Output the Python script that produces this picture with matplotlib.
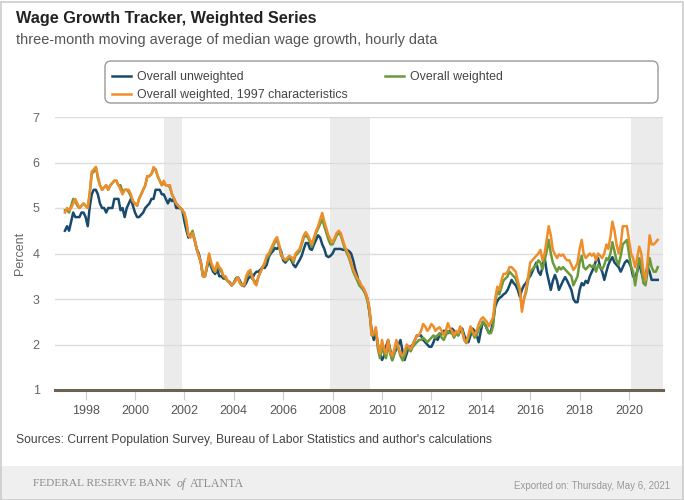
import matplotlib
matplotlib.use("Agg")
import matplotlib.pyplot as plt
import matplotlib.dates as mdates
from matplotlib.patches import Rectangle, FancyBboxPatch
from matplotlib.transforms import IdentityTransform
import pandas as pd

plt.rcParams['font.family'] = ['Liberation Sans', 'DejaVu Sans']

# monthly values, Mar 1997 .. Mar 2021
unweighted = [
    4.5, 4.6, 4.5, 4.7, 4.9, 4.8, 4.8, 4.8, 4.9, 4.9,                    # 1997
    4.8, 4.6, 5.0, 5.3, 5.4, 5.4, 5.3, 5.1, 5.0, 5.0, 4.9, 5.0,          # 1998
    5.0, 5.0, 5.2, 5.2, 5.2, 4.95, 5.0, 4.8, 5.0, 5.1, 5.2, 5.05,        # 1999
    4.9, 4.8, 4.8, 4.85, 4.9, 5.0, 5.05, 5.1, 5.2, 5.2, 5.4, 5.4,        # 2000
    5.4, 5.3, 5.3, 5.2, 5.1, 5.2, 5.15, 5.2, 5.0, 5.0, 5.0, 4.95,        # 2001
    4.7, 4.5, 4.35, 4.4, 4.45, 4.3, 4.1, 4.0, 3.8, 3.5, 3.5, 3.7,        # 2002
    3.85, 3.7, 3.6, 3.55, 3.65, 3.5, 3.5, 3.45, 3.45, 3.4, 3.37, 3.3,    # 2003
    3.35, 3.45, 3.48, 3.4, 3.3, 3.28, 3.35, 3.45, 3.5, 3.45, 3.55, 3.6,  # 2004
    3.6, 3.65, 3.7, 3.68, 3.75, 3.92, 4.0, 4.05, 4.12, 4.1, 4.15, 4.05,  # 2005
    3.85, 3.8, 3.85, 3.92, 3.85, 3.75, 3.7, 3.78, 3.86, 3.95, 4.1, 4.23, # 2006
    4.23, 4.1, 4.08, 4.2, 4.3, 4.4, 4.35, 4.2, 4.1, 3.95, 3.92, 3.95,    # 2007
    4.0, 4.1, 4.1, 4.1, 4.1, 4.08, 4.08, 4.08, 4.05, 4.0, 3.85, 3.65,    # 2008
    3.5, 3.3, 3.27, 3.2, 3.13, 3.0, 2.7, 2.3, 2.1, 2.3, 2.0, 1.8,        # 2009
    1.66, 1.75, 1.95, 2.1, 1.9, 1.66, 1.8, 1.9, 2.0, 2.1, 1.85, 1.66,    # 2010
    1.8, 1.95, 1.95, 2.0, 2.1, 2.2, 2.2, 2.2, 2.1, 2.05, 2.0, 1.95,      # 2011
    1.95, 2.05, 2.17, 2.1, 2.2, 2.25, 2.3, 2.3, 2.25, 2.3, 2.35, 2.3,    # 2012
    2.25, 2.2, 2.3, 2.35, 2.2, 2.1, 2.05, 2.2, 2.35, 2.3, 2.2, 2.05,     # 2013
    2.3, 2.5, 2.45, 2.35, 2.25, 2.3, 2.5, 2.83, 2.95, 3.02, 3.05, 3.1,   # 2014
    3.13, 3.2, 3.3, 3.42, 3.35, 3.3, 3.2, 3.05, 3.2, 3.3, 3.35, 3.45,    # 2015
    3.5, 3.6, 3.7, 3.8, 3.6, 3.53, 3.7, 3.92, 3.6, 3.4, 3.2, 3.4,        # 2016
    3.53, 3.4, 3.2, 3.3, 3.4, 3.48, 3.4, 3.3, 3.2, 3.0, 2.93, 2.93,      # 2017
    3.2, 3.35, 3.3, 3.4, 3.35, 3.5, 3.6, 3.7, 3.85, 3.9, 3.7, 3.6,       # 2018
    3.42, 3.6, 3.75, 3.85, 3.92, 3.8, 3.75, 3.7, 3.6, 3.7, 3.8, 3.85,    # 2019
    3.8, 3.7, 3.5, 3.48, 3.6, 3.8, 3.6, 3.42, 3.55, 3.7, 3.6, 3.42,      # 2020
    3.42, 3.42, 3.42,                                                    # 2021
]

weighted = [
    4.95, 4.95, 4.9, 5.05, 5.2, 5.15, 5.05, 5.0, 5.05, 5.1,
    5.05, 5.0, 5.3, 5.75, 5.8, 5.9, 5.65, 5.5, 5.4, 5.45, 5.5, 5.4,
    5.5, 5.55, 5.6, 5.6, 5.5, 5.5, 5.35, 5.4, 5.4, 5.35, 5.25, 5.15,
    5.1, 5.05, 5.2, 5.3, 5.4, 5.5, 5.7, 5.7, 5.75, 5.85, 5.85, 5.7,
    5.6, 5.5, 5.55, 5.5, 5.5, 5.45, 5.3, 5.2, 5.1, 5.05, 5.0, 4.95,
    4.85, 4.65, 4.4, 4.4, 4.5, 4.3, 4.1, 3.95, 3.8, 3.55, 3.5, 3.7,
    3.95, 3.75, 3.65, 3.6, 3.75, 3.65, 3.6, 3.5, 3.45, 3.4, 3.35, 3.3,
    3.35, 3.45, 3.48, 3.35, 3.3, 3.3, 3.45, 3.55, 3.6, 3.45, 3.4, 3.35,
    3.5, 3.6, 3.7, 3.75, 3.9, 3.95, 4.05, 4.15, 4.25, 4.3, 4.15, 3.95,
    3.9, 3.85, 3.85, 3.9, 3.9, 3.8, 3.95, 4.0, 4.05, 4.2, 4.35, 4.4,
    4.35, 4.25, 4.15, 4.3, 4.45, 4.55, 4.65, 4.75, 4.6, 4.45, 4.3, 4.2,
    4.2, 4.3, 4.4, 4.45, 4.4, 4.25, 4.1, 4.0, 3.9, 3.75, 3.6, 3.5,
    3.4, 3.3, 3.25, 3.2, 3.1, 2.95, 2.7, 2.2, 2.2, 2.3, 1.9, 1.7,
    1.95, 1.8, 1.7, 2.0, 1.8, 1.65, 1.8, 2.0, 1.9, 1.75, 1.65, 1.75,
    1.9, 1.9, 1.85, 1.95, 2.0, 2.05, 2.1, 2.1, 2.15, 2.1, 2.05, 2.1,
    2.15, 2.2, 2.15, 2.2, 2.25, 2.15, 2.1, 2.2, 2.3, 2.25, 2.25, 2.15,
    2.25, 2.2, 2.35, 2.3, 2.1, 2.03, 2.15, 2.3, 2.25, 2.15, 2.2, 2.35,
    2.4, 2.5, 2.45, 2.35, 2.25, 2.25, 2.4, 2.9, 3.2, 3.1, 3.25, 3.4,
    3.45, 3.5, 3.6, 3.55, 3.5, 3.45, 3.3, 3.15, 2.8, 3.0, 3.15, 3.4,
    3.6, 3.65, 3.7, 3.75, 3.85, 3.8, 3.65, 3.85, 4.05, 4.3, 4.0, 3.8,
    3.7, 3.6, 3.7, 3.65, 3.7, 3.65, 3.6, 3.55, 3.5, 3.3, 3.4, 3.5,
    3.8, 3.95, 3.7, 3.65, 3.7, 3.75, 3.7, 3.75, 3.6, 3.75, 3.7, 3.65,
    3.75, 3.9, 3.85, 4.0, 4.25, 4.05, 3.85, 3.75, 3.95, 4.2, 4.25, 4.3,
    4.0, 3.7, 3.6, 3.3, 3.6, 3.9, 3.7, 3.35, 3.3, 3.6, 3.9, 3.7,
    3.6, 3.6, 3.7,
]

weighted_1997 = [
    4.9, 5.0, 4.95, 5.0, 5.1, 5.2, 5.1, 5.0, 5.05, 5.1,
    5.05, 5.0, 5.3, 5.8, 5.85, 5.9, 5.7, 5.5, 5.4, 5.45, 5.5, 5.4,
    5.5, 5.55, 5.6, 5.6, 5.5, 5.4, 5.3, 5.4, 5.4, 5.4, 5.3, 5.15,
    5.1, 5.05, 5.2, 5.3, 5.4, 5.5, 5.7, 5.7, 5.75, 5.9, 5.85, 5.7,
    5.6, 5.5, 5.6, 5.5, 5.5, 5.5, 5.3, 5.2, 5.1, 5.05, 5.0, 4.95,
    4.9, 4.7, 4.4, 4.35, 4.45, 4.3, 4.1, 3.95, 3.8, 3.5, 3.5, 3.75,
    4.0, 3.8, 3.7, 3.6, 3.8, 3.7, 3.65, 3.5, 3.5, 3.4, 3.35, 3.3,
    3.35, 3.4, 3.48, 3.35, 3.3, 3.3, 3.5, 3.6, 3.64, 3.5, 3.35, 3.3,
    3.5, 3.6, 3.7, 3.8, 3.95, 4.0, 4.1, 4.2, 4.3, 4.36, 4.2, 4.0,
    3.9, 3.85, 3.9, 3.95, 3.92, 3.85, 4.0, 4.05, 4.1, 4.25, 4.4, 4.47,
    4.4, 4.3, 4.2, 4.35, 4.5, 4.6, 4.75, 4.89, 4.7, 4.55, 4.4, 4.3,
    4.25, 4.35, 4.45, 4.5, 4.45, 4.3, 4.15, 4.05, 3.95, 3.8, 3.65, 3.55,
    3.45, 3.4, 3.3, 3.25, 3.15, 3.0, 2.8, 2.2, 2.25, 2.38, 2.0, 1.8,
    2.1, 1.9, 1.8, 2.1, 1.85, 1.75, 1.9, 2.1, 1.95, 1.8, 1.75, 1.85,
    2.0, 1.95, 1.9, 2.0, 2.1, 2.2, 2.2, 2.3, 2.45, 2.4, 2.3, 2.35,
    2.45, 2.4, 2.3, 2.35, 2.38, 2.3, 2.2, 2.3, 2.47, 2.35, 2.3, 2.2,
    2.3, 2.25, 2.4, 2.3, 2.1, 2.05, 2.2, 2.4, 2.3, 2.2, 2.3, 2.45,
    2.55, 2.6, 2.55, 2.5, 2.4, 2.5, 2.6, 3.0, 3.27, 3.2, 3.4, 3.55,
    3.55, 3.6, 3.7, 3.7, 3.65, 3.6, 3.4, 3.23, 2.72, 3.0, 3.2, 3.5,
    3.8, 3.85, 3.9, 3.95, 4.0, 4.08, 3.85, 4.0, 4.3, 4.6, 4.4, 4.08,
    3.98, 3.9, 3.98, 3.95, 3.98, 3.9, 3.85, 3.85, 3.75, 3.64, 3.7, 3.8,
    4.1, 4.3, 4.0, 3.9, 3.95, 4.0, 3.95, 4.0, 3.85, 4.0, 3.95, 3.9,
    4.0, 4.2, 4.1, 4.36, 4.7, 4.5, 4.2, 4.0, 4.2, 4.6, 4.6, 4.6,
    4.3, 4.0, 3.9, 3.7, 3.9, 4.15, 4.0, 3.6, 3.42, 3.8, 4.4, 4.2,
    4.2, 4.25, 4.3,
]

recessions = [("2001-03-01", "2001-11-30"), ("2007-12-01", "2009-06-30"), ("2020-02-01", "2021-05-20")]

dates = pd.date_range("1997-03-01", periods=len(unweighted), freq="MS")

fig = plt.figure(figsize=(6.84, 5.0), dpi=100)
ax = fig.add_axes([55 / 684, 110 / 500, 608 / 684, 273 / 500])

# recession bands
for start, end in recessions:
    ax.axvspan(pd.Timestamp(start), pd.Timestamp(end), color="#ebebeb", lw=0, zorder=0)

l1, = ax.plot(dates, unweighted, color="#184a6e", lw=1.8, label="Overall unweighted", zorder=3)
l2, = ax.plot(dates, weighted[:len(dates)], color="#6b9a3a", lw=1.8, label="Overall weighted", zorder=4)
l3, = ax.plot(dates, weighted_1997[:len(dates)], color="#f08d2b", lw=1.8,
              label="Overall weighted, 1997 characteristics", zorder=5)

ax.set_ylim(1, 7)
ax.set_xlim(pd.Timestamp("1996-10-05"), pd.Timestamp("2021-05-18"))
ax.set_yticks(range(1, 8))
ax.yaxis.grid(True, color="#dcdcdc", lw=1)
ax.set_axisbelow(True)
for s in ["top", "right", "left"]:
    ax.spines[s].set_visible(False)
ax.spines["bottom"].set_color("#6b6252")
ax.spines["bottom"].set_linewidth(2.2)
ax.spines["bottom"].set_zorder(6)

ax.xaxis.set_major_locator(mdates.YearLocator(2))
ax.xaxis.set_major_formatter(mdates.DateFormatter("%Y"))
ax.tick_params(axis="x", length=7, color="#cccccc", labelcolor="#555555", labelsize=9, pad=4)
ax.tick_params(axis="y", length=0, labelcolor="#666666", labelsize=9, pad=11)
ax.set_ylabel("Percent", color="#666666", fontsize=9, labelpad=5)

fig.text(16 / 684, 1 - 18 / 500, "Wage Growth Tracker, Weighted Series", fontsize=11.7,
         fontweight="bold", color="#222222", va="center")
fig.text(16 / 684, 1 - 40 / 500, "three-month moving average of median wage growth, hourly data",
         fontsize=10.45, color="#555555", va="center")

# legend box drawn in pixels, entries as two frameless legends
frame = FancyBboxPatch((105, 397), 553, 42, boxstyle="round,pad=0,rounding_size=6",
                       transform=IdentityTransform(), facecolor="white", edgecolor="#999999", lw=1)
fig.patches.append(frame)
leg_kw = dict(loc="upper left", fontsize=8.9, frameon=False, handlelength=1.5,
              handletextpad=0.55, borderpad=0, borderaxespad=0, labelspacing=0.5)
leg1 = fig.legend(handles=[l1, l3], bbox_to_anchor=(112 / 684, 1 - 71 / 500), **leg_kw)
leg2 = fig.legend(handles=[l2], bbox_to_anchor=(385 / 684, 1 - 71 / 500), **leg_kw)
for lg in (leg1, leg2):
    for t in lg.get_texts():
        t.set_color("#444444")

fig.text(16 / 684, 1 - 440 / 500, "Sources: Current Population Survey, Bureau of Labor Statistics and author's calculations",
         fontsize=8.75, color="#444444", va="center")

# footer band
fig.patches.append(Rectangle((0, 0), 1, 34 / 500, transform=fig.transFigure,
                             facecolor="#efefef", edgecolor="none", zorder=0))
fig.text(33 / 684, 1 - 484 / 500, "FEDERAL RESERVE BANK", family="Liberation Serif",
         fontsize=8.2, color="#8a8a8a", va="center")
fig.text(177 / 684, 1 - 484 / 500, "of", family="Liberation Serif", style="italic",
         fontsize=8.6, color="#8a8a8a", va="center")
fig.text(190 / 684, 1 - 484 / 500, "ATLANTA", family="Liberation Serif",
         fontsize=8.6, color="#8a8a8a", va="center")
fig.text(1 - 14 / 684, 1 - 486 / 500, "Exported on: Thursday, May 6, 2021",
         fontsize=7, color="#999999", va="center", ha="right")
fig.patches.append(Rectangle((0.5 / 684, 0.5 / 500), 682 / 684, 498 / 500, transform=fig.transFigure,
                             facecolor="none", edgecolor="#cccccc", lw=1.2, zorder=10))

fig.savefig("out.png", dpi=100)
